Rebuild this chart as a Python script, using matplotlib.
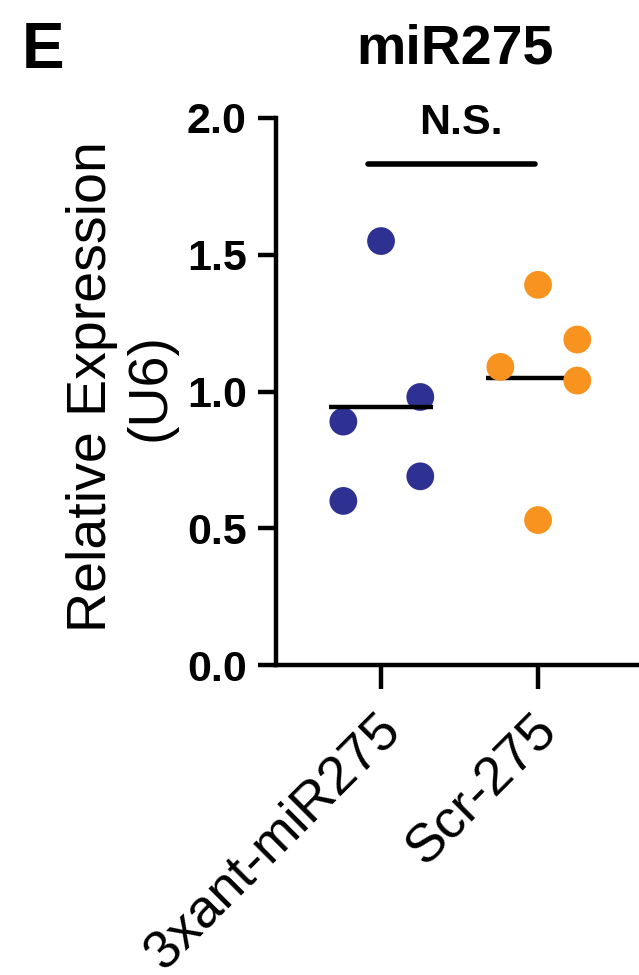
import matplotlib
matplotlib.use("Agg")
import matplotlib.pyplot as plt
import matplotlib.transforms as mtransforms
import numpy as np

plt.rcParams['font.family'] = ['Liberation Sans', 'DejaVu Sans']

# data
groups = ["3xant-miR275", "Scr-275"]
antimir_values = [0.60, 0.89, 1.55, 0.98, 0.69]
scramble_values = [1.09, 1.39, 0.53, 1.19, 1.04]
yticks = [0.0, 0.5, 1.0, 1.5, 2.0]
panel_label = "E"
title = "miR275"
sig_label = "N.S."

# horizontal scatter of points within each column
antimir_offsets = [-0.24, -0.24, 0.0, 0.25, 0.25]
scramble_offsets = [-0.24, 0.0, 0.0, 0.25, 0.25]

blue = "#2E3192"
orange = "#F7931E"

fig = plt.figure(figsize=(6.39, 9.75), dpi=100)
ax = fig.add_axes([0.4319, 0.3179, 0.5681, 0.5611])

ax.scatter(np.array(antimir_offsets) + 0, antimir_values, s=400, color=blue,
           edgecolors='none', zorder=3)
ax.scatter(np.array(scramble_offsets) + 1, scramble_values, s=400, color=orange,
           edgecolors='none', zorder=3)

# group means
hw = 0.33
ax.plot([0 - hw, 0 + hw], [np.mean(antimir_values)] * 2, color='black', lw=3.2,
        solid_capstyle='butt', zorder=4)
ax.plot([1 - hw, 1 + hw], [np.mean(scramble_values)] * 2, color='black', lw=3.2,
        solid_capstyle='butt', zorder=2)

# significance bar
ax.plot([-0.08, 0.98], [1.832, 1.832], color='black', lw=4, solid_capstyle='round',
        zorder=4, clip_on=False)
ax.text(0.51, 1.98, sig_label, ha='center', va='center', fontsize=31,
        fontweight='bold', clip_on=False)

ax.set_xlim(-0.669, 1.643)
ax.set_ylim(0, 2.0)

for side in ['top', 'right']:
    ax.spines[side].set_visible(False)
for side in ['left', 'bottom']:
    ax.spines[side].set_linewidth(3.2)

ax.set_yticks(yticks)
ax.set_yticklabels([f"{v:.1f}" for v in yticks], fontsize=31, fontweight='bold')
ax.tick_params(axis='y', length=13, width=3.2, pad=8)
ax.tick_params(axis='x', length=17, width=3.2, pad=3)

ax.set_xticks([0, 1])
ax.set_xticklabels(groups, fontsize=39, rotation=45, ha='right', va='top',
                   rotation_mode='anchor')
offset = mtransforms.ScaledTranslation(-0.06, -0.12, fig.dpi_scale_trans)
for lab in ax.get_xticklabels():
    lab.set_transform(lab.get_transform() + offset)

fig.text(121 / 639, 1 - 387 / 975, "Relative Expression\n(U6)", rotation=90,
         ha='center', va='center', ma='center', fontsize=40, linespacing=1.15)
fig.text(455 / 639, 1 - 50 / 975, title, ha='center', va='center', fontsize=40,
         fontweight='bold')
fig.text(22 / 639, 1 - 68 / 975, panel_label, ha='left', va='baseline', fontsize=46,
         fontweight='bold')

fig.savefig("out.png", dpi=100)
